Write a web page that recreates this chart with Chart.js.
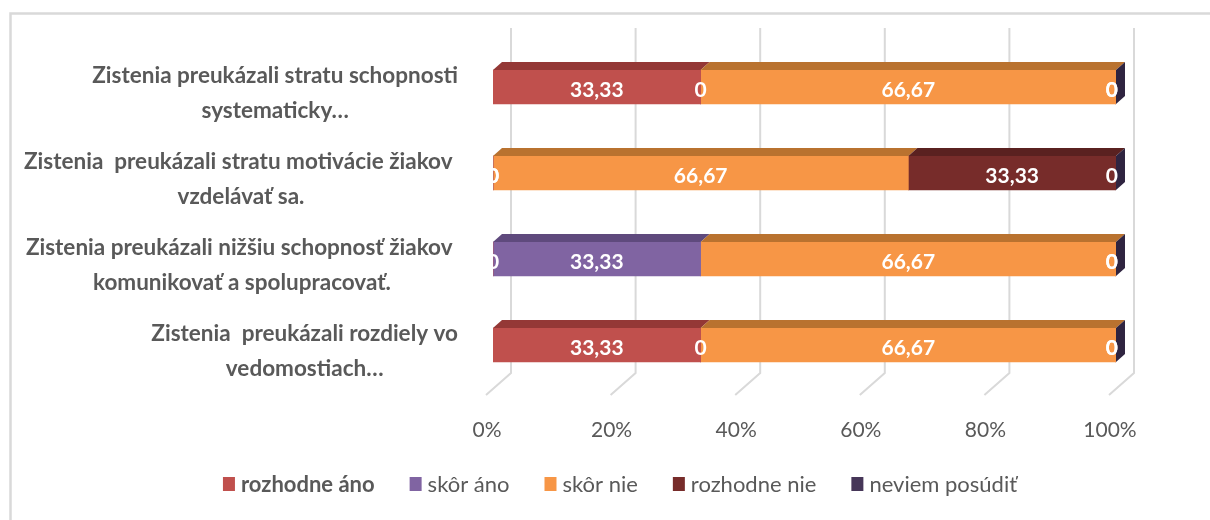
<!DOCTYPE html>
<html><head><meta charset="utf-8">
<script src="https://cdn.jsdelivr.net/npm/chart.js@4.4.1/dist/chart.umd.min.js"></script>
<style>html,body{margin:0;padding:0;background:#fff;} canvas{display:block;}</style>
</head><body>
<canvas id="c" width="1210" height="520"></canvas>
<script>
const categories = [
  ["Zistenia preukázali stratu schopnosti", "systematicky…"],
  ["Zistenia  preukázali stratu motivácie žiakov ", "vzdelávať sa."],
  ["Zistenia preukázali nižšiu schopnosť žiakov ", "komunikovať a spolupracovať."],
  ["Zistenia  preukázali rozdiely vo", "vedomostiach…"]
];
const seriesNames = ["rozhodne áno", "skôr áno", "skôr nie", "rozhodne nie", "neviem posúdiť"];
const rozhodneAno   = [33.33, 0, 0, 33.33];
const skorAno       = [0, 0, 33.33, 0];
const skorNie       = [66.67, 66.67, 66.67, 66.67];
const rozhodneNie   = [0, 33.33, 0, 0];
const neviemPosudit = [0, 0, 0, 0];
const tickValues = [0, 20, 40, 60, 80, 100];

const frontColors = ['#c0504d', '#8064a2', '#f79646', '#772c2a', '#463658'];
const topColors   = ['#943836', '#5f4a7d', '#b9722f', '#5a2120', '#2f2440'];
const textGray = '#595959';
const FONT = 'Lato, "Open Sans", sans-serif';
const DX = 9, DY = 8;

const seriesValues = [rozhodneAno, skorAno, skorNie, rozhodneNie, neviemPosudit];

const framePlugin = {
  id: 'frame',
  beforeDraw(chart) {
    const ctx = chart.ctx;
    ctx.save();
    ctx.strokeStyle = '#d9d9d9';
    ctx.lineWidth = 2.5;
    ctx.beginPath();
    ctx.moveTo(10.5, 522);
    ctx.lineTo(10.5, 13.5);
    ctx.lineTo(1212, 13.5);
    ctx.stroke();
    ctx.restore();
  }
};

const grid3dPlugin = {
  id: 'grid3d',
  beforeDatasetsDraw(chart) {
    const ctx = chart.ctx, xs = chart.scales.x, a = chart.chartArea;
    ctx.save();
    ctx.strokeStyle = '#d9d9d9';
    ctx.lineWidth = 2;
    xs.ticks.forEach(t => {
      const px = xs.getPixelForValue(t.value);
      ctx.beginPath();
      ctx.moveTo(px + 18, a.top - 16);
      ctx.lineTo(px + 18, a.bottom - 15);
      ctx.lineTo(px - 7, a.bottom + 7);
      ctx.stroke();
    });
    ctx.restore();
  }
};

const faces3dPlugin = {
  id: 'faces3d',
  afterDatasetsDraw(chart) {
    const ctx = chart.ctx;
    ctx.save();
    const n = chart.data.datasets.length;
    for (let d = 0; d < n; d++) {
      const meta = chart.getDatasetMeta(d);
      meta.data.forEach(el => {
        const p = el.getProps(['x', 'y', 'base', 'height'], true);
        const x0 = Math.min(p.x, p.base), x1 = Math.max(p.x, p.base);
        const top = p.y - p.height / 2, bot = p.y + p.height / 2;
        if (x1 - x0 > 0.5) {
          ctx.fillStyle = topColors[d];
          ctx.beginPath();
          ctx.moveTo(x0, top);
          ctx.lineTo(x1, top);
          ctx.lineTo(x1 + DX, top - DY);
          ctx.lineTo(x0 + DX, top - DY);
          ctx.closePath();
          ctx.fill();
        }
        if (d === n - 1) {
          ctx.fillStyle = topColors[d];
          ctx.beginPath();
          ctx.moveTo(x1, top);
          ctx.lineTo(x1 + DX, top - DY);
          ctx.lineTo(x1 + DX, bot - DY);
          ctx.lineTo(x1, bot);
          ctx.closePath();
          ctx.fill();
        }
      });
    }
    ctx.restore();
  }
};

const valueLabelsPlugin = {
  id: 'valueLabels',
  afterDatasetsDraw(chart) {
    const ctx = chart.ctx, a = chart.chartArea;
    ctx.save();
    ctx.beginPath();
    ctx.rect(a.left, 0, chart.width - a.left, chart.height);
    ctx.clip();
    ctx.font = 'bold 21px ' + FONT;
    ctx.fillStyle = '#ffffff';
    ctx.textAlign = 'center';
    ctx.textBaseline = 'middle';
    chart.data.datasets.forEach((ds, d) => {
      const meta = chart.getDatasetMeta(d);
      meta.data.forEach((el, i) => {
        const p = el.getProps(['x', 'y', 'base'], true);
        const txt = String(ds.data[i]).replace('.', ',');
        const w = ctx.measureText(txt).width;
        let cx = (p.x + p.base) / 2;
        if (cx + w / 2 > a.right + 2) cx = a.right + 2 - w / 2;
        ctx.fillText(txt, cx, p.y + 3);
      });
    });
    ctx.restore();
  }
};

const categoryLabelsPlugin = {
  id: 'catLabels',
  afterDraw(chart) {
    const ctx = chart.ctx, ys = chart.scales.y, a = chart.chartArea;
    ctx.save();
    ctx.font = 'bold 22.5px ' + FONT;
    ctx.fillStyle = textGray;
    ctx.textAlign = 'center';
    ctx.textBaseline = 'middle';
    const rightEdge = a.left - 35;
    const lineH = 35;
    chart.data.labels.forEach((lines, i) => {
      const cy = ys.getPixelForValue(i) + 6;
      const blockW = Math.max(...lines.map(l => ctx.measureText(l).width));
      const cx = rightEdge - blockW / 2;
      lines.forEach((l, j) => {
        ctx.fillText(l, cx, cy + (j - (lines.length - 1) / 2) * lineH);
      });
    });
    ctx.restore();
  }
};

const legendPlugin = {
  id: 'customLegend',
  afterDraw(chart) {
    const ctx = chart.ctx;
    ctx.save();
    ctx.textBaseline = 'middle';
    ctx.textAlign = 'left';
    const fonts = chart.data.datasets.map((ds, d) => (d === 0 ? 'bold ' : '') + '22px ' + FONT);
    const widths = chart.data.datasets.map((ds, d) => { ctx.font = fonts[d]; return ctx.measureText(ds.label).width; });
    const boxW = 12, boxH = 14, gapBox = 6, gapItem = 35;
    let total = 0;
    widths.forEach((w, d) => { total += boxW + gapBox + w + (d < widths.length - 1 ? gapItem : 0); });
    let x = 620 - total / 2;
    const cy = 484;
    chart.data.datasets.forEach((ds, d) => {
      ctx.fillStyle = ds.backgroundColor;
      ctx.fillRect(x, cy - boxH / 2, boxW, boxH);
      x += boxW + gapBox;
      ctx.font = fonts[d];
      ctx.fillStyle = textGray;
      ctx.fillText(ds.label, x, cy + 1);
      x += widths[d] + gapItem;
    });
    ctx.restore();
  }
};

new Chart(document.getElementById('c'), {
  type: 'bar',
  data: {
    labels: categories,
    datasets: seriesNames.map((name, d) => ({
      label: name,
      data: seriesValues[d],
      backgroundColor: frontColors[d],
      borderWidth: 0,
      barThickness: 34
    }))
  },
  options: {
    indexAxis: 'y',
    responsive: false,
    animation: false,
    devicePixelRatio: 1,
    layout: { padding: { left: 493, right: 94, top: 44, bottom: 0 } },
    plugins: { legend: { display: false }, tooltip: { enabled: false } },
    scales: {
      x: {
        stacked: true,
        min: 0, max: 100,
        afterBuildTicks(axis) { axis.ticks = tickValues.map(v => ({ value: v })); },
        afterFit(axis) { axis.height = 132; },
        grid: { display: false, drawTicks: false },
        border: { display: false },
        ticks: {
          padding: 30,
          labelOffset: -6,
          color: textGray,
          font: { family: FONT, size: 21 },
          callback: v => v + '%'
        }
      },
      y: {
        stacked: true,
        display: false
      }
    }
  },
  plugins: [framePlugin, grid3dPlugin, faces3dPlugin, valueLabelsPlugin, categoryLabelsPlugin, legendPlugin]
});
</script>
</body></html>
